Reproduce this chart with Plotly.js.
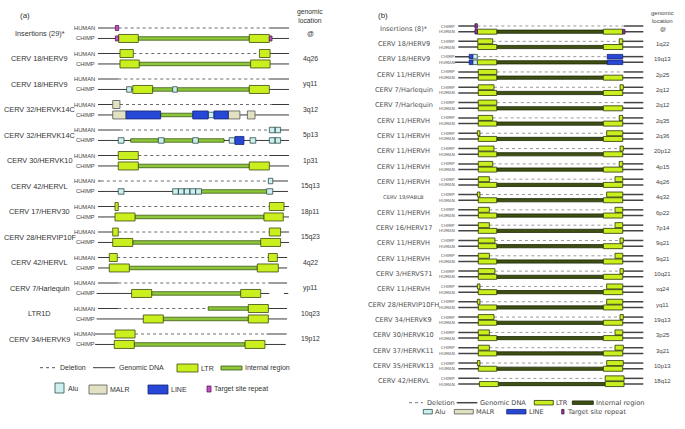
<!DOCTYPE html>
<html><head><meta charset="utf-8">
<script src="https://cdn.plot.ly/plotly-3.0.1.min.js"></script>
<style>html,body{margin:0;padding:0;background:#fff}</style>
</head><body><div id="chart" style="width:685px;height:429px"></div>
<script>
// ---------- Panel (a) data ----------
// segment codes: g genomic DNA, d deletion, l LTR, i internal region, a Alu, m MALR, n LINE, t target site repeat
const aNames = ['Insertions (29)*','CERV 18/HERV9','CERV 18/HERV9','CERV 32/HERVK14C','CERV 32/HERVK14C','CERV 30/HERVK10','CERV 42/HERVL','CERV 17/HERV30','CERV 28/HERVIP10F','CERV 42/HERVL','CERV 7/Harlequin','LTR1D','CERV 34/HERVK9'];
const aLocations = ['@','4q26','yq11','3q12','5p13','1p31','15q13','18p11','15q23','4q22','yp11','10q23','19p12'];
const aHuman = [
 'g:0:9.1 t:9.1:10.8 d:10.8:89.7 g:89.7:100',
 'g:0:11.5 l:11.5:18.5 d:18.5:84.5 l:84.5:90.1 g:90.1:100',
 'g:0:10.6 d:10.6:89.7 g:89.7:100',
 'g:0:7.7 m:7.7:11.5 d:11.5:90.9 g:90.9:100',
 'g:0:11.5 d:11.5:89.7 g:89.7:100 a:89.7:92.7 a:92.7:95.6',
 'g:0:10.6 l:10.6:21.1 d:21.1:89.7 g:89.7:100',
 'g:0:1.5 d:1.5:89.2 g:89.2:99.5 a:89.2:91.5',
 'g:0:8.9 l:8.9:10.6 d:10.6:89.7 g:89.7:100 l:89.7:97.4',
 'g:0:7.7 l:7.7:10.6 d:10.6:89.7 g:89.7:100 l:89.7:95.6',
 'g:0:5.9 l:5.9:10.1 d:10.1:89.2 g:89.2:99 l:89.2:93.9',
 'g:0:10.6 d:10.6:89.2 g:89.2:99',
 'g:0:10.6 d:10.6:57.7 g:57.7:99 i:57.7:78.7 l:78.7:89.2',
 'g:-1.5:8.9 l:8.9:19.4 d:19.4:88.3 g:88.3:98.8'
];
const aChimp = [
 'g:0:100 t:9.1:10.8 l:10.8:21.1 i:21.1:79.2 l:79.2:89.7 t:89.7:91.1',
 'g:0:100 l:11.5:21.6 i:21.6:79.9 l:79.9:90.1',
 'g:0:100 a:15.0:17.6 l:18.2:28.6 i:28.6:39.1 a:39.1:41.5 i:41.5:79.2 l:79.2:89.7',
 'g:0:100 m:7.7:14.7 n:14.7:32.8 i:32.8:49.6 n:49.6:57.7 a:57.7:60.7 n:60.7:68.2 m:68.2:74.3 m:78.2:82.2',
 'g:0:100 a:10.6:13.6 i:17.1:31.6 a:31.6:34.6 i:34.6:49.6 a:49.6:52.5 i:52.5:66.0 a:68.7:71.7 n:71.7:76.4 a:79.6:82.6 a:89.7:92.7 a:92.7:95.6',
 'g:0:100 l:10.6:21.1 i:21.1:79.2 l:79.2:89.7',
 'g:0:99.5 a:10.6:13.6 a:39.1:42.1 a:42.1:45.1 a:45.1:48.1 a:48.1:51.1 a:51.1:54.2 i:54.2:88.3 a:88.3:91.5',
 'g:0:100 l:8.9:19.4 i:19.4:86.9 l:86.9:97.0',
 'g:0:100 l:7.7:18.2 i:18.2:85.2 l:85.2:95.6',
 'g:0:99 l:5.9:16.4 i:16.4:83.4 l:83.4:94.4',
 'g:-0.7:89.7 l:17.6:28.1 i:28.1:74.7 l:74.7:85.2 g:97.4:99.6',
 'g:-0.7:99 l:23.7:34.2 i:34.2:78.7 l:78.7:89.2',
 'g:-1.5:98.3 l:8.5:19.0 i:19.0:77.0 l:77.0:87.4'
];

// ---------- Panel (b) data ----------
const bNames = ['Insertions (8)*','CERV 18/HERV9','CERV 18/HERV9','CERV 11/HERVH','CERV 7/Harlequin','CERV 7/Harlequin','CERV 11/HERVH','CERV 11/HERVH','CERV 11/HERVH','CERV 11/HERVH','CERV 11/HERVH','CERV 19/PABLB','CERV 11/HERVH','CERV 16/HERV17','CERV 11/HERVH','CERV 11/HERVH','CERV 3/HERVS71','CERV 11/HERVH','CERV 28/HERVIP10FH','CERV 34/HERVK9','CERV 30/HERVK10','CERV 37/HERVK11','CERV 35/HERVK13','CERV 42/HERVL'];
const bLocations = ['@','1q22','19q13','2p25','2q12','2q12','2q35','2q36','20p12','4p15','4q26','4q32','6p22','7p14','9q21','9q21','10q21','xq24','yq11','19q13','3p25','3q21','10p13','18q12'];
const bChimp = [
 'g:0:9.0 t:9.0:10.3 d:10.3:89.6 g:89.6:100',
 'g:0:10.5 l:10.5:18.6 d:18.6:87.0 l:87.0:88.9 g:88.9:100',
 'g:-1.8:5.9 n:5.9:7.8 a:7.8:10.3 d:10.3:80.5 n:80.5:88.9 g:88.9:100',
 'g:0:10.8 l:10.8:20.8 d:20.8:89.5 g:89.5:100',
 'g:0:10.8 l:10.8:19.3 d:19.3:87.4 l:87.4:89.2 g:89.2:100',
 'g:0:10.8 l:10.8:20.8 d:20.8:89.5 g:89.5:100',
 'g:0:10.8 l:10.8:18.6 d:18.6:87.0 l:87.0:88.9 g:88.9:100',
 'g:0:10.3 l:10.3:11.7 d:11.7:80.2 l:80.2:88.9 g:88.9:100',
 'g:0:10.8 l:10.8:19.3 d:19.3:87.4 l:87.4:89.2 g:89.2:100',
 'g:0:10.8 l:10.8:18.6 d:18.6:87.0 l:87.0:88.9 g:88.9:100',
 'g:0:10.8 l:10.8:16.8 d:16.8:84.7 l:84.7:88.9 g:88.9:100',
 'g:0:10.3 l:10.3:11.7 d:11.7:80.2 l:80.2:88.9 g:88.9:100',
 'g:0:10.8 l:10.8:16.8 d:16.8:84.7 l:84.7:88.9 g:88.9:100',
 'g:0:10.8 l:10.8:16.8 d:16.8:84.7 l:84.7:88.9 g:88.9:100',
 'g:0:10.8 l:10.8:19.8 d:19.8:87.4 l:87.4:89.2 g:89.2:100',
 'g:0:10.8 l:10.8:16.8 d:16.8:84.7 l:84.7:88.9 g:88.9:100',
 'g:0:10.8 l:10.8:19.8 d:19.8:87.4 l:87.4:89.2 g:89.2:100',
 'g:0:10.3 l:10.3:11.7 d:11.7:80.2 l:80.2:88.9 g:88.9:100',
 'g:0:10.3 l:10.3:11.7 d:11.7:80.2 l:80.2:88.9 g:88.9:100',
 'g:0:10.8 l:10.8:19.3 d:19.3:87.4 l:87.4:89.2 g:89.2:100',
 'g:0:10.8 l:10.8:16.8 d:16.8:84.7 l:84.7:88.9 g:88.9:100',
 'g:0:10.8 l:10.8:16.8 d:16.8:84.7 l:84.7:89.2 g:89.2:100',
 'g:0:10.3 l:10.3:11.7 d:11.7:80.2 l:80.2:89.2 g:89.2:100',
 'g:0:11.4 d:11.4:79.4 l:79.4:89.6 g:89.6:100'
];
const bStd = 'g:0:100 l:10.8:20.8 i:20.8:78.4 l:78.4:88.9';
const bHuman = [
 'g:0:100 t:9.0:10.3 l:10.3:20.8 i:20.8:78.4 l:78.4:88.9 t:88.9:90.1',
 'g:0:100 l:10.5:20.8 i:20.8:78.4 l:78.4:88.9',
 'g:-1.8:100 n:5.9:7.8 a:7.8:10.3 l:10.3:20.8 i:20.8:80.5 n:80.5:88.9',
 bStd,bStd,bStd,bStd,bStd,bStd,bStd,bStd,bStd,bStd,bStd,bStd,bStd,bStd,bStd,bStd,bStd,bStd,bStd,bStd,
 'g:0:100 l:11.4:21.6 i:21.6:79.4 l:79.4:89.6'
];

// ---------- styles ----------
const W = 685, H = 429;
const boxOrder = ['i','l','a','m','n','t'];
const panels = [
 { xa:'x', ya:'y', names:aNames, locs:aLocations, pxPerRow:25.5,
   tracks:[{label:'HUMAN', off:0, data:aHuman},{label:'CHIMP', off:0.41, data:aChimp}],
   h:{l:8, i:3.5, a:5.5, m:8, n:8, t:5},
   fill:{l:'#c9ef1f', i:'#8cc63a', a:'#cdf0ee', m:'#e2e2c2', n:'#2747d6', t:'#c24fc2'},
   edge:{l:'#3a4a10', i:'#3d5a12', a:'#2f4f4f', m:'#555', n:'#14246e', t:'#5a1a5a'},
   gLine:{color:'#3a3a3a', width:1}, dLine:{color:'#6a6a6a', width:1, dash:'dot'},
   nameX:-30.4, nameFont:{family:'Liberation Sans, Arial', size:7.3, color:'#333333'},
   tagX:-0.3, tagFont:{family:'Liberation Sans, Arial', size:5.8, color:'#444444'},
   locX:111, locFont:{family:'Liberation Sans, Arial', size:6.8, color:'#333333'}, headY:-0.49 },
 { xa:'x2', ya:'y2', names:bNames, locs:bLocations, pxPerRow:15.32,
   tracks:[{label:'CHIMP', off:0, data:bChimp},{label:'HUMAN', off:0.372, data:bHuman}],
   h:{l:5, i:3.2, a:4.5, m:4.5, n:4.5, t:4.5},
   fill:{l:'#c9ef1f', i:'#3e5112', a:'#cdf0ee', m:'#e2e2c2', n:'#2747d6', t:'#9a3e9e'},
   edge:{l:'#2a3508', i:'#1c2608', a:'#2f4f4f', m:'#555', n:'#14246e', t:'#3a1040'},
   gLine:{color:'#444', width:1.5}, dLine:{color:'#9a9a9a', width:1, dash:'dot'},
   nameX:-29.4, nameFont:{family:'DejaVu Sans', size:6.6, color:'#505050'},
   tagX:-0.7, tagFont:{family:'DejaVu Sans', size:4.2, color:'#5a5a5a'},
   locX:110.6, locFont:{family:'Liberation Sans, Arial', size:6.0, color:'#444444'}, headY:-0.56 }
];

function parse(s){ return s.trim().split(/\s+/).map(t=>{const p=t.split(':');return {type:p[0], s:+p[1], e:+p[2]};}); }

const traces = [], annotations = [], shapes = [];
panels.forEach(p => {
  const acc = {}; ['g','d'].concat(boxOrder).forEach(t => acc[t] = {x:[], y:[]});
  p.names.forEach((nm, r) => {
    p.tracks.forEach(tr => {
      const y = r + tr.off;
      parse(tr.data[r]).forEach(sg => {
        const A = acc[sg.type];
        if (sg.type === 'g' || sg.type === 'd') { A.x.push(sg.s, sg.e, null); A.y.push(y, y, null); }
        else { const hh = p.h[sg.type] / p.pxPerRow / 2;
          A.x.push(sg.s, sg.e, sg.e, sg.s, sg.s, null); A.y.push(y-hh, y-hh, y+hh, y+hh, y-hh, null); }
      });
      annotations.push({xref:p.xa, yref:p.ya, x:p.tagX, y:y, text:tr.label, showarrow:false, xanchor:'right', yanchor:'middle', font:p.tagFont});
    });
    const mid = r + p.tracks[1].off / 2;
    const nf = Object.assign({}, p.nameFont);
    if (nm === 'CERV 19/PABLB') nf.size = p.nameFont.size * 0.8;
    annotations.push({xref:p.xa, yref:p.ya, x:p.nameX, y:mid, text:nm, showarrow:false, xanchor:'center', yanchor:'middle', font:nf});
    annotations.push({xref:p.xa, yref:p.ya, x:p.locX, y:mid, text:p.locs[r], showarrow:false, xanchor:'center', yanchor:'middle', font:p.locFont});
  });
  annotations.push({xref:p.xa, yref:p.ya, x:p.locX, y:p.headY, text:'genomic<br>location', showarrow:false, xanchor:'center', yanchor:'middle', font:p.locFont});
  const base = {type:'scatter', mode:'lines', xaxis:p.xa, yaxis:p.ya, hoverinfo:'skip', showlegend:false};
  traces.push(Object.assign({}, base, {x:acc.g.x, y:acc.g.y, line:p.gLine}));
  traces.push(Object.assign({}, base, {x:acc.d.x, y:acc.d.y, line:p.dLine}));
  boxOrder.forEach(t => {
    if (!acc[t].x.length) return;
    traces.push(Object.assign({}, base, {x:acc[t].x, y:acc[t].y, fill:'toself', fillcolor:p.fill[t], line:{color:p.edge[t], width:0.8}}));
  });
});

// ---------- legends (layout positions in pixels) ----------
const legendItems = [
 {p:0, k:'d', x0:40, x1:57, y:367.7, h:0, tx:58, text:'Deletion'},
 {p:0, k:'g', x0:93, x1:115, y:367.7, h:0, tx:117, text:'Genomic DNA'},
 {p:0, k:'l', x0:177, x1:198, y:368, h:8, tx:199, text:'LTR'},
 {p:0, k:'i', x0:221, x1:242, y:368, h:4, tx:242.5, text:'Internal region'},
 {p:0, k:'a', x0:55, x1:64, y:388, h:10, tx:66, text:'Alu'},
 {p:0, k:'m', x0:89, x1:107, y:389.5, h:9, tx:108, text:'MALR'},
 {p:0, k:'n', x0:148, x1:168, y:389.5, h:9, tx:169, text:'LINE'},
 {p:0, k:'t', x0:207, x1:211, y:389, h:6, tx:212, text:'Target site repeat'},
 {p:1, k:'d', x0:409, x1:423, y:402.7, h:0, tx:425, text:'Deletion'},
 {p:1, k:'g', x0:456.7, x1:477.3, y:402.7, h:0, tx:478.3, text:'Genomic DNA'},
 {p:1, k:'l', x0:534.3, x1:553.3, y:402.7, h:4.5, tx:554, text:'LTR'},
 {p:1, k:'i', x0:572.3, x1:593.3, y:402.7, h:3.5, tx:594, text:'Internal region'},
 {p:1, k:'a', x0:423.3, x1:432.3, y:411.7, h:4.5, tx:433.3, text:'Alu'},
 {p:1, k:'m', x0:454.3, x1:473.3, y:411.7, h:4.5, tx:474.3, text:'MALR'},
 {p:1, k:'n', x0:506.7, x1:526, y:411.7, h:4.5, tx:526.7, text:'LINE'},
 {p:1, k:'t', x0:561.7, x1:564, y:411.7, h:4.5, tx:565, text:'Target site repeat'}
];
const legFont = [{family:'Liberation Sans, Arial', size:7, color:'#333333'}, {family:'DejaVu Sans', size:6.6, color:'#444444'}];
const X = px => px / W, Y = py => 1 - py / H;
legendItems.forEach(it => {
  const p = panels[it.p];
  if (it.k === 'g' || it.k === 'd') {
    shapes.push({type:'line', xref:'paper', yref:'paper', x0:X(it.x0), x1:X(it.x1), y0:Y(it.y), y1:Y(it.y), line: it.k==='g'? p.gLine : Object.assign({}, p.dLine, {color: it.p===0 ? '#555' : '#777'})});
  } else {
    shapes.push({type:'rect', xref:'paper', yref:'paper', x0:X(it.x0), x1:X(it.x1), y0:Y(it.y + it.h/2), y1:Y(it.y - it.h/2), fillcolor:p.fill[it.k], line:{color:p.edge[it.k], width:0.8}});
  }
  annotations.push({xref:'paper', yref:'paper', x:X(it.tx), y:Y(it.y), text:it.text, showarrow:false, xanchor:'left', yanchor:'middle', font:legFont[it.p]});
});
annotations.push({xref:'paper', yref:'paper', x:X(25), y:Y(15), text:'(a)', showarrow:false, xanchor:'center', yanchor:'middle', font:{family:'Liberation Sans, Arial', size:8, color:'#333333'}});
annotations.push({xref:'paper', yref:'paper', x:X(383), y:Y(15), text:'(b)', showarrow:false, xanchor:'center', yanchor:'middle', font:{family:'Liberation Sans, Arial', size:8, color:'#333333'}});

const ax = {visible:false, fixedrange:true, showgrid:false, zeroline:false};
const layout = {
  width:W, height:H, margin:{l:0, r:0, t:0, b:0}, showlegend:false,
  paper_bgcolor:'#fff', plot_bgcolor:'rgba(0,0,0,0)',
  xaxis: Object.assign({}, ax, {domain:[0, 0.5], range:[-51.31, 128.01], anchor:'y'}),
  yaxis: Object.assign({}, ax, {domain:[0, 1], range:[15.725, -1.098], anchor:'x'}),
  xaxis2: Object.assign({}, ax, {domain:[0.5, 1], range:[-62.59, 122.54], anchor:'y2'}),
  yaxis2: Object.assign({}, ax, {domain:[0, 1], range:[26.305, -1.697], anchor:'x2'}),
  annotations: annotations, shapes: shapes
};
Plotly.newPlot('chart', traces, layout, {staticPlot:true, displayModeBar:false});
</script></body></html>
